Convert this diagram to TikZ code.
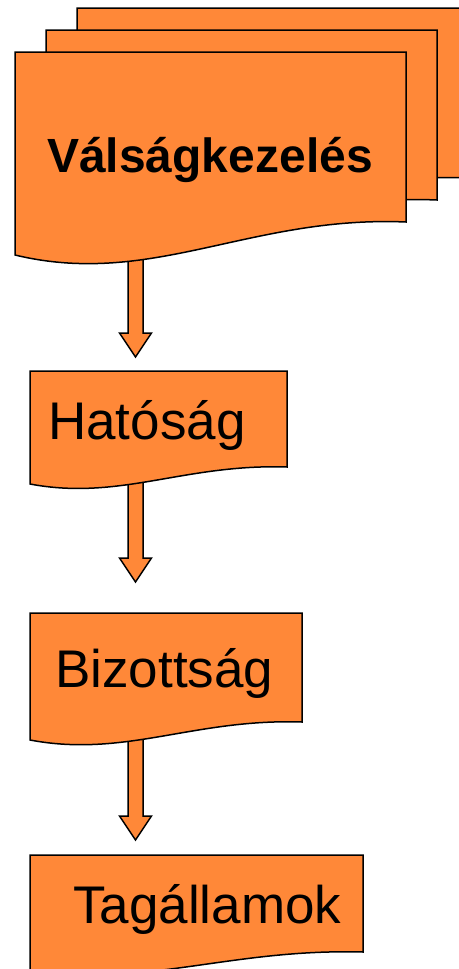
\documentclass[tikz,border=0pt]{standalone}
\usepackage{fontspec}
\setmainfont{Liberation Sans}
\usetikzlibrary{calc}

\definecolor{docorange}{RGB}{255,136,56}

\tikzset{
	docbox/.style={draw=black, fill=docorange, line width=1.5pt},
	fatarrow/.style={draw=black, fill=docorange, line width=1.5pt},
	doclabel/.style={anchor=base west, inner sep=0pt, font=\fontsize{53}{60}\selectfont},
}

% document outline: left, top, right, bottom at right, bottom at left
\newcommand{\docpath}[5]{%
	(#1,#2) -- (#3,#2) -- (#3,#4)
	.. controls ({#3-0.4*(#3-#1)},{#4-0.2*(#5-#4)}) and ({#1+0.35*(#3-#1)},{#5+(#5-#4)}) .. (#1,#5) -- cycle}

% block arrow between two named coordinates
\newcommand{\blockarrow}[2]{%
	\draw[fatarrow] ($(#1)+(-7.5,0)$) -- ($(#2)+(-7.5,-24)$) -- ($(#2)+(-16,-24)$)
		-- (#2) -- ($(#2)+(16,-24)$) -- ($(#2)+(7.5,-24)$) -- ($(#1)+(7.5,0)$) -- cycle;}

\begin{document}
\begin{tikzpicture}[x=1pt, y=-1pt]
	\useasboundingbox (0,0) rectangle (458,969);

	% Arrow ends
	\coordinate (v-out) at (135.5,250);
	\coordinate (h-in) at (135.5,357);
	\coordinate (h-out) at (135.5,480);
	\coordinate (b-in) at (135.5,582);
	\coordinate (b-out) at (135.5,738);
	\coordinate (t-in) at (135.5,840);

	% Arrows
	\blockarrow{v-out}{h-in}
	\blockarrow{h-out}{b-in}
	\blockarrow{b-out}{t-in}

	% Documents
	\draw[docbox] \docpath{77}{8}{468}{178}{211};
	\draw[docbox] \docpath{46}{30}{437}{200}{233};
	\draw[docbox] \docpath{15}{52}{406}{222}{255};
	\draw[docbox] \docpath{30}{371}{287}{467}{484};
	\draw[docbox] \docpath{30}{613}{302}{722}{740};
	\draw[docbox] \docpath{30}{855}{363}{952}{970};

	% Nodes
	\node[doclabel, font=\fontsize{48}{58}\selectfont\bfseries] (valsag) at (47,172) {Válságkezelés};
	\node[doclabel] (hatosag) at (48,439) {Hatóság};
	\node[doclabel] (bizottsag) at (55,687) {Bizottság};
	\node[doclabel] (tagallam) at (73,923) {Tagállamok};
\end{tikzpicture}
\end{document}
